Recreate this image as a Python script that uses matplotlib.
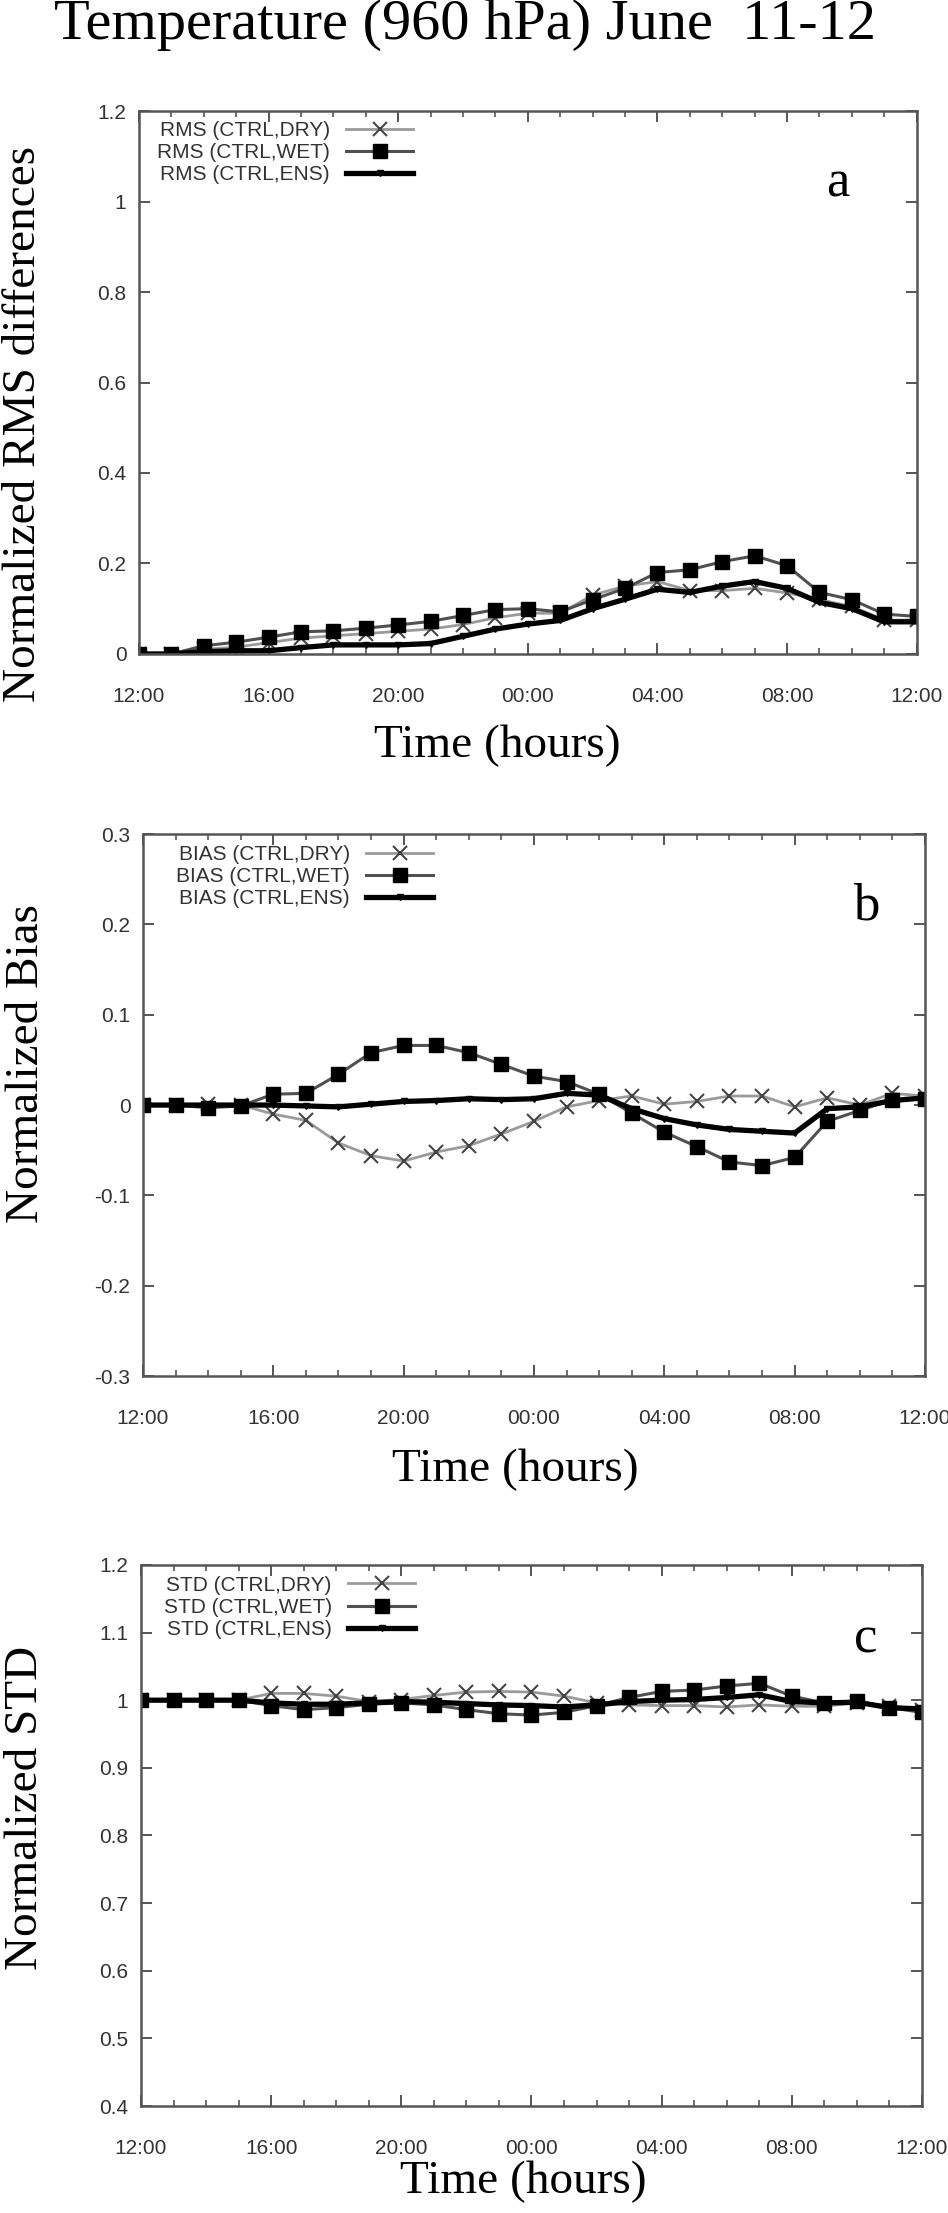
import matplotlib
matplotlib.use('Agg')
import matplotlib.pyplot as plt
from matplotlib.ticker import MultipleLocator

# 25 hourly outputs, 12:00 June 11 -> 12:00 June 12
hours = list(range(25))
tick_pos = [0, 4, 8, 12, 16, 20, 24]
tick_lab = ['12:00', '16:00', '20:00', '00:00', '04:00', '08:00', '12:00']

# panel a: normalized RMS differences
rms_dry = [0, 0, 0.01, 0.015, 0.025, 0.035, 0.04, 0.045, 0.05, 0.055, 0.065, 0.08,
           0.09, 0.09, 0.13, 0.15, 0.16, 0.14, 0.14, 0.145, 0.135, 0.12, 0.105, 0.075, 0.075]
rms_wet = [0, 0, 0.018, 0.026, 0.037, 0.049, 0.051, 0.057, 0.064, 0.072, 0.085, 0.098,
           0.1, 0.093, 0.12, 0.145, 0.18, 0.186, 0.204, 0.217, 0.195, 0.136, 0.12, 0.088, 0.083]
rms_ens = [0, 0, 0.005, 0.007, 0.007, 0.014, 0.02, 0.02, 0.02, 0.023, 0.039, 0.055,
           0.066, 0.074, 0.1, 0.121, 0.143, 0.136, 0.15, 0.16, 0.145, 0.114, 0.1, 0.071, 0.071]

# panel b: normalized bias
bias_dry = [0, 0, 0.001, 0, -0.01, -0.017, -0.042, -0.056, -0.062, -0.052, -0.045, -0.032,
            -0.018, -0.002, 0.005, 0.01, 0.001, 0.004, 0.01, 0.01, -0.002, 0.008, 0, 0.013, 0.01]
bias_wet = [0, 0, -0.003, -0.001, 0.012, 0.013, 0.034, 0.058, 0.066, 0.066, 0.058, 0.045,
            0.032, 0.026, 0.012, -0.009, -0.03, -0.046, -0.063, -0.067, -0.058, -0.018, -0.006, 0.006, 0.007]
bias_ens = [0, 0, 0, 0, 0, -0.001, -0.002, 0.001, 0.004, 0.005, 0.007, 0.006,
            0.007, 0.013, 0.011, -0.004, -0.015, -0.022, -0.027, -0.029, -0.031, -0.004, -0.002, 0.005, 0.008]

# panel c: normalized STD
std_dry = [1.0, 1.0, 1.0, 1.0, 1.01, 1.01, 1.006, 0.998, 1.001, 1.007, 1.012, 1.013,
           1.012, 1.006, 0.996, 0.993, 0.992, 0.992, 0.99, 0.993, 0.991, 0.991, 0.996, 0.992, 0.986]
std_wet = [1.0, 1.0, 1.0, 1.0, 0.992, 0.986, 0.989, 0.994, 0.996, 0.993, 0.986, 0.98,
           0.978, 0.982, 0.992, 1.004, 1.013, 1.015, 1.021, 1.025, 1.006, 0.996, 0.999, 0.989, 0.982]
std_ens = [1.0, 1.0, 1.0, 1.0, 0.996, 0.994, 0.994, 0.996, 0.998, 0.997, 0.995, 0.993,
           0.992, 0.99, 0.993, 0.998, 1.0, 1.001, 1.004, 1.008, 0.998, 0.996, 0.997, 0.989, 0.987]

serif = 'Liberation Serif'
sans = 'Liberation Sans'
axcol = '#555555'

fig = plt.figure(figsize=(9.48, 22.13), dpi=100)
fig.text(0.49, 0.9887, 'Temperature (960 hPa) June  11-12', ha='center', va='center',
         family=serif, fontsize=42)

# (rect, data, prefix, ylabel, ylim, ystep, letter pos, legend anchor, ylabel y, xlabel pos)
panels = [
    ([0.1466, 0.7045, 0.8204, 0.2453], (rms_dry, rms_wet, rms_ens), 'RMS',
     'Normalized RMS differences', (0, 1.2), 0.2, (0.898, 0.867), (0.023, 0.982), 0.424, (0.461, -0.17), 'a'),
    ([0.1508, 0.3782, 0.8249, 0.2449], (bias_dry, bias_wet, bias_ens), 'BIAS',
     'Normalized Bias', (-0.3, 0.3), 0.1, (0.925, 0.867), (0.042, 0.98), 0.577, (0.476, -0.173), 'b'),
    ([0.1487, 0.04835, 0.8238, 0.2445], (std_dry, std_wet, std_ens), 'STD',
     'Normalized STD', (0.4, 1.2), 0.1, (0.928, 0.863), (0.029, 0.98), 0.551, (0.49, -0.14), 'c'),
]

def fmt(v):
    s = '%g' % round(v, 3)
    return s

for rect, (dry, wet, ens), pre, ylab, ylim, ystep, lpos, legpos, ylaby, xlabpos, letter in panels:
    ax = fig.add_axes(rect)
    ax.plot(hours, dry, color='#9a9a9a', lw=2, marker='x', ms=10, mew=1.5,
            mec='#444444', label=pre + ' (CTRL,DRY)')
    ax.plot(hours, wet, color='#505050', lw=2.2, marker='s', ms=10,
            mfc='black', mec='black', label=pre + ' (CTRL,WET)')
    ax.plot(hours, ens, color='black', lw=3.8, marker='v', ms=5,
            mfc='black', mec='black', label=pre + ' (CTRL,ENS)')

    ax.set_xlim(0, 24)
    ax.set_ylim(*ylim)
    ax.set_xticks(tick_pos)
    ax.set_xticklabels(tick_lab)
    ax.xaxis.set_minor_locator(MultipleLocator(1))
    ax.yaxis.set_major_locator(MultipleLocator(ystep))
    ax.set_yticklabels([fmt(t) for t in ax.get_yticks()])
    ax.set_ylim(*ylim)
    ax.tick_params(which='both', direction='in', top=True, right=True, color=axcol)
    ax.tick_params(which='major', length=8, width=1.4)
    ax.tick_params(which='minor', length=4, width=1.2)
    ax.tick_params(axis='x', which='major', pad=24, labelsize=15, labelcolor='#333333')
    ax.tick_params(axis='y', which='major', pad=9, labelsize=15, labelcolor='#333333')
    for t in ax.get_xticklabels() + ax.get_yticklabels():
        t.set_family(sans)
    for sp in ax.spines.values():
        sp.set_color(axcol)
        sp.set_linewidth(1.8)

    ax.set_ylabel(ylab, family=serif, fontsize=34, va='center')
    ax.yaxis.set_label_coords(-0.148, ylaby)
    ax.set_xlabel('Time (hours)', family=serif, fontsize=34, va='center')
    ax.xaxis.set_label_coords(*xlabpos)

    ax.text(lpos[0], lpos[1], letter, transform=ax.transAxes, ha='center', va='center',
            family=serif, fontsize=38)

    leg = ax.legend(loc='upper left', bbox_to_anchor=legpos, frameon=False, markerfirst=False,
                    handlelength=3.2, handletextpad=0.8, labelspacing=0.15, borderpad=0,
                    borderaxespad=0, prop={'family': sans, 'size': 15})
    for t in leg.get_texts():
        t.set_color('#333333')

fig.savefig('out.png', dpi=100)
